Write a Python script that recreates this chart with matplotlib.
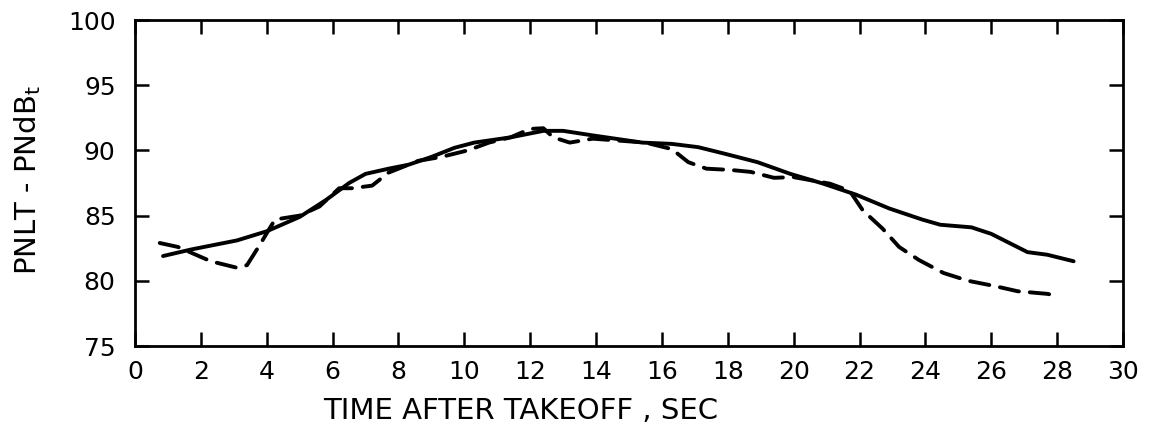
import numpy as np
import matplotlib
matplotlib.use("Agg")
import matplotlib.pyplot as plt

# solid curve
solid_t = [0.85, 1.7, 3.1, 4.0, 5.0, 5.8, 6.5, 7.0, 7.7, 8.3, 9.0, 9.7, 10.3, 11.4, 12.4, 13.0,
           13.9, 15.4, 16.3, 17.1, 17.9, 18.9, 19.9, 20.9, 21.9, 22.9, 23.9, 24.45, 25.4, 26.0,
           27.1, 27.7, 28.5]
solid_db = [81.9, 82.4, 83.1, 83.8, 84.9, 86.2, 87.5, 88.2, 88.6, 88.9, 89.5, 90.2, 90.6, 91.0, 91.5, 91.5,
            91.15, 90.6, 90.5, 90.25, 89.75, 89.1, 88.2, 87.45, 86.6, 85.55, 84.7, 84.3, 84.1, 83.6,
            82.2, 82.0, 81.5]

# dashed curve
dash_t = [0.75, 1.3, 2.3, 3.1, 3.4, 3.75, 4.25, 5.0, 5.6, 6.2, 6.6, 7.2, 7.7, 8.6, 9.3, 10.1,
          10.75, 11.4, 12.0, 12.4, 12.7, 13.2, 13.9, 15.5, 16.3, 16.8, 17.35, 18.1, 18.7, 19.4,
          20.0, 21.1, 21.7, 22.1, 22.7, 23.2, 23.8, 24.55, 25.3, 26.1, 26.8, 27.7, 27.9]
dash_db = [82.9, 82.6, 81.5, 81.0, 81.2, 82.6, 84.7, 85.0, 85.7, 87.1, 87.1, 87.3, 88.3, 89.2, 89.5, 90.0,
           90.6, 91.0, 91.65, 91.7, 91.0, 90.6, 90.9, 90.6, 90.1, 89.1, 88.6, 88.5, 88.35, 87.9,
           87.95, 87.45, 86.9, 85.4, 84.0, 82.6, 81.6, 80.6, 80.0, 79.6, 79.2, 79.0, 78.9]

xticks = np.arange(0, 31, 2)
yticks = np.arange(75, 101, 5)

fig = plt.figure(figsize=(11.55, 4.37), dpi=100)
ax = fig.add_axes([0.1169, 0.2082, 0.8554, 0.746])

ax.plot(solid_t, solid_db, color="black", linewidth=2.8,
        solid_capstyle="round", solid_joinstyle="round")
ax.plot(dash_t, dash_db, color="black", linewidth=2.8, linestyle=(0, (5, 2.8)),
        dash_capstyle="round", dash_joinstyle="round")

ax.set_xlim(0, 30)
ax.set_ylim(75, 100)
ax.set_xticks(xticks)
ax.set_yticks(yticks)
ax.tick_params(direction="in", length=10, width=1.8, top=True, right=True,
               labelsize=18, pad=10)
ax.tick_params(axis="y", pad=14)
for s in ax.spines.values():
    s.set_linewidth(2.0)

ax.set_ylabel(r"PNLT - PNdB$_\mathrm{t}$", fontsize=21)
ax.yaxis.set_label_coords(-0.093, 0.51)
ax.set_xlabel("TIME AFTER TAKEOFF , SEC", fontsize=21)
ax.xaxis.set_label_coords(0.39, -0.155)

fig.savefig("out.png", dpi=100)
